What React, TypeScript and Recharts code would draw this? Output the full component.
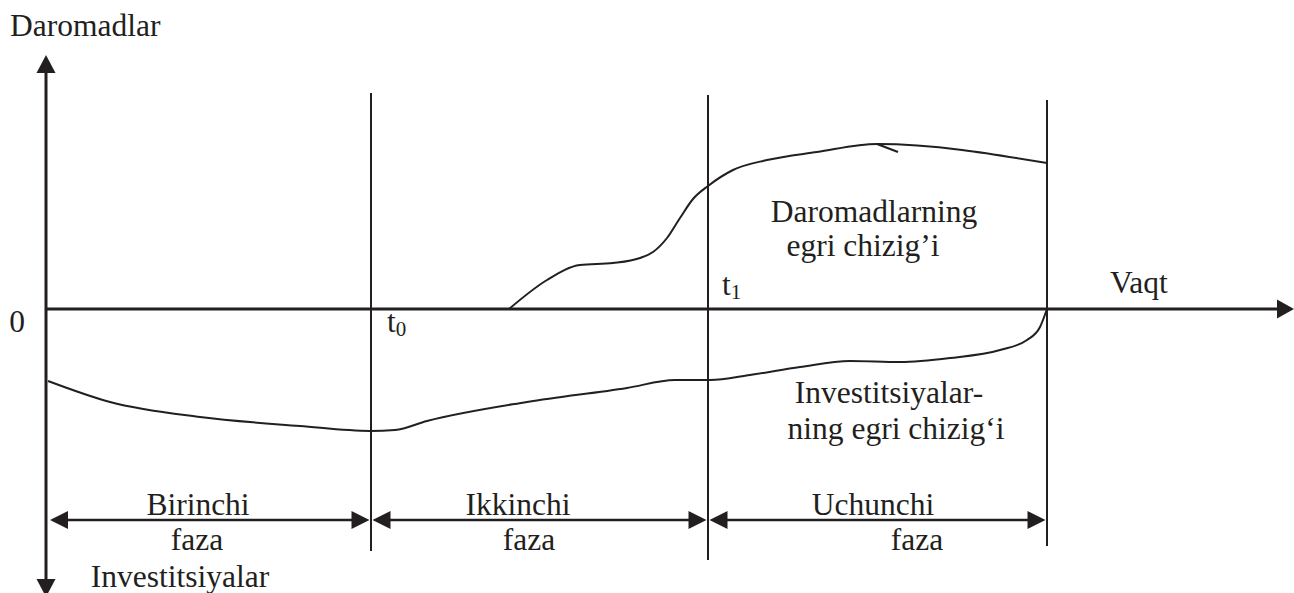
import { LineChart, Line, XAxis, YAxis, ReferenceLine, ReferenceDot } from 'recharts'

const INK = '#231f20'
const FONT = '"Liberation Serif", "Times New Roman", Times, serif'

// Investitsiyalar egri chizig'i: vaqt va qiymat
const investTime = [0.2, 6.4, 15.4, 25.4, 32.4, 34.9, 38.1, 48.1, 58.1, 62.9, 66.4, 70.4, 75.4, 80.4, 85.4, 90.4, 95.4, 98.1, 99.4, 100.1]
const investValue = [-7.2, -9.3, -10.8, -11.7, -12.2, -12.1, -11.2, -9.3, -7.9, -7.1, -7.1, -6.6, -5.8, -5.2, -5.3, -4.9, -4.1, -3.1, -1.8, 0]

// Daromadlar egri chizig'i: vaqt va qiymat
const incomeTime = [46.3, 50.1, 53.4, 56.7, 59.4, 60.7, 62.1, 63.4, 64.7, 66.2, 68.7, 72.1, 77.1, 83.1, 100.1]
const incomeValue = [0, 2.9, 4.4, 4.6, 5.1, 5.7, 7.1, 9.1, 11.0, 12.3, 13.9, 14.9, 15.7, 16.5, 14.6]

// fazalar chegaralari: boshlanish, t0, t1, tugash
const phaseBounds = [0.4, 32.5, 66.2, 100.1]
const phaseNames = ['Birinchi', 'Ikkinchi', 'Uchunchi']

const investData = investTime.map((t, i) => ({ t, v: investValue[i] }))
const incomeData = incomeTime.map((t, i) => ({ t, v: incomeValue[i] }))

const W = 1294
const H = 593

// chizmaning koordinatalar maydoni (1 birlik = 10px)
const xDomain: [number, number] = [-4.6, 124.8]
const yDomain: [number, number] = [-28.4, 30.9]

type Pt = { x: number; y: number }

const head = (tip: Pt, from: Pt, len: number, half: number) => {
  const dx = tip.x - from.x
  const dy = tip.y - from.y
  const d = Math.hypot(dx, dy) || 1
  const ux = dx / d
  const uy = dy / d
  const bx = tip.x - ux * len
  const by = tip.y - uy * len
  return `${tip.x},${tip.y} ${bx - uy * half},${by + ux * half} ${bx + uy * half},${by - ux * half}`
}

// chiziq + uchlaridagi strelkalar
const arrowShape = (startArrow: boolean, endArrow: boolean, width: number, len: number, half: number) =>
  (p: any) => {
    const a = { x: Number(p.x1), y: Number(p.y1) }
    const b = { x: Number(p.x2), y: Number(p.y2) }
    const d = Math.hypot(b.x - a.x, b.y - a.y) || 1
    const ux = (b.x - a.x) / d
    const uy = (b.y - a.y) / d
    const s = startArrow ? { x: a.x + ux * (len - 2), y: a.y + uy * (len - 2) } : a
    const e = endArrow ? { x: b.x - ux * (len - 2), y: b.y - uy * (len - 2) } : b
    return (
      <g>
        <line x1={s.x} y1={s.y} x2={e.x} y2={e.y} stroke={INK} strokeWidth={width} />
        {startArrow && <polygon points={head(a, b, len, half)} fill={INK} />}
        {endArrow && <polygon points={head(b, a, len, half)} fill={INK} />}
      </g>
    )
  }

const label = (key: string, t: number, v: number, text: string, anchor: 'start' | 'middle' | 'end' = 'middle', sub?: string) => (
  <ReferenceDot
    key={key}
    x={t}
    y={v}
    r={0}
    ifOverflow="visible"
    shape={(p: any) => (
      <text x={p.cx} y={p.cy} textAnchor={anchor} fontFamily={FONT} fontSize={31.5} fill={INK}>
        {text}
        {sub && (
          <tspan fontSize={21} dy={4}>
            {sub}
          </tspan>
        )}
      </text>
    )}
  />
)

export default function App() {
  const [t0, t1, tEnd] = phaseBounds.slice(1)
  const phaseY = -21.1
  const phaseMid = [15.2, 47.2, 82.7]
  const fazaMid = [15.1, 48.3, 87.1]

  return (
    <div style={{ position: 'absolute', left: 0, top: 0, width: W, height: H, background: '#fff' }}>
      <LineChart width={W} height={H} margin={{ top: 0, right: 0, bottom: 0, left: 0 }}>
        <XAxis type="number" dataKey="t" domain={xDomain} allowDataOverflow hide />
        <YAxis type="number" dataKey="v" domain={yDomain} allowDataOverflow hide />

        {/* o'qlar */}
        <ReferenceLine
          segment={[{ x: 0, y: 25.4 }, { x: 0, y: -28.8 }]}
          ifOverflow="visible"
          shape={arrowShape(true, true, 3, 18, 9.5)}
        />
        <ReferenceLine
          segment={[{ x: 0, y: 0 }, { x: 124.8, y: 0 }]}
          ifOverflow="visible"
          shape={arrowShape(false, true, 3, 17, 9.5)}
        />

        {/* faza chegaralari */}
        <ReferenceLine segment={[{ x: t0, y: 21.6 }, { x: t0, y: -24.2 }]} ifOverflow="visible" stroke={INK} strokeWidth={2} />
        <ReferenceLine segment={[{ x: t1, y: 21.4 }, { x: t1, y: -25.1 }]} ifOverflow="visible" stroke={INK} strokeWidth={2} />
        <ReferenceLine segment={[{ x: tEnd, y: 20.9 }, { x: tEnd, y: -23.7 }]} ifOverflow="visible" stroke={INK} strokeWidth={2} />

        {/* faza strelkalari */}
        {phaseNames.map((_, i) => (
          <ReferenceLine
            key={`ph-${i}`}
            segment={[
              { x: phaseBounds[i] + (i === 0 ? 0 : 0.15), y: phaseY },
              { x: phaseBounds[i + 1] - 0.15, y: phaseY },
            ]}
            ifOverflow="visible"
            shape={arrowShape(true, true, 2.5, 18, 9)}
          />
        ))}

        <Line
          data={investData}
          dataKey="v"
          type="monotone"
          stroke={INK}
          strokeWidth={2}
          dot={false}
          activeDot={false}
          legendType="none"
          isAnimationActive={false}
        />
        <Line
          data={incomeData}
          dataKey="v"
          type="monotone"
          stroke={INK}
          strokeWidth={2}
          dot={false}
          activeDot={false}
          legendType="none"
          isAnimationActive={false}
        />
        {/* cho'qqidagi kichik belgi */}
        <ReferenceLine segment={[{ x: 83.1, y: 16.5 }, { x: 85.2, y: 15.7 }]} ifOverflow="visible" stroke={INK} strokeWidth={2} />

        {label('yl', -3.6, 27.3, 'Daromadlar', 'start')}
        {label('zero', -2.9, -2.3, '0')}
        {label('t0', 34.1, -2.3, 't', 'start', '0')}
        {label('t1', 67.6, 1.4, 't', 'start', '1')}
        {label('xl', 106.4, 1.6, 'Vaqt', 'start')}
        {label('inc1', 82.8, 8.7, 'Daromadlarning')}
        {label('inc2', 81.7, 5.3, 'egri chizig’i')}
        {label('inv1', 84.3, -9.4, 'Investitsiyalar-')}
        {label('inv2', 85.0, -13.0, 'ning egri chizig‘i')}
        {phaseNames.map((n, i) => label(`pn-${i}`, phaseMid[i], -20.6, n))}
        {phaseNames.map((_, i) => label(`pf-${i}`, fazaMid[i], -24.1, 'faza'))}
        {label('yl2', 13.4, -27.8, 'Investitsiyalar')}
      </LineChart>
    </div>
  )
}
